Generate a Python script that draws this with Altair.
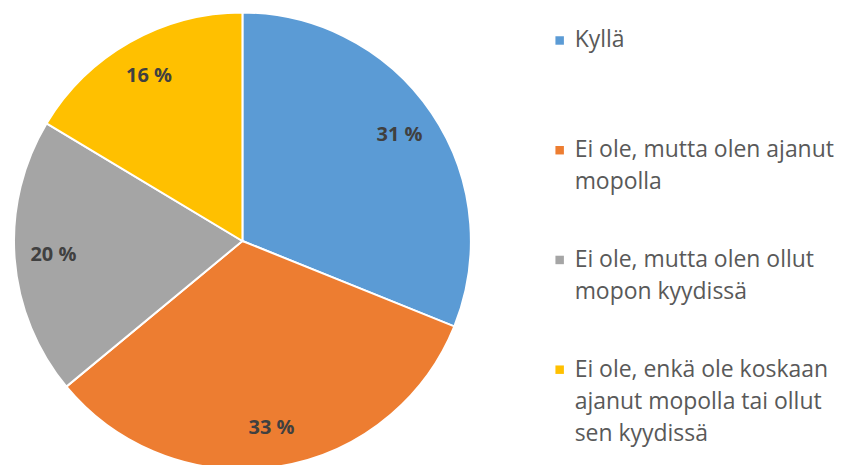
import altair as alt
import pandas as pd

categories = [
    "Kyllä",
    "Ei ole, mutta olen ajanut mopolla",
    "Ei ole, mutta olen ollut mopon kyydissä",
    "Ei ole, enkä ole koskaan ajanut mopolla tai ollut sen kyydissä",
]
legend_lines = [
    "Kyllä",
    "Ei ole, mutta olen ajanut|mopolla",
    "Ei ole, mutta olen ollut|mopon kyydissä",
    "Ei ole, enkä ole koskaan|ajanut mopolla tai ollut|sen kyydissä",
]
values = [31.1, 32.9, 19.6, 16.4]
labels = ["31 %", "33 %", "20 %", "16 %"]
colors = ["#5B9BD5", "#ED7D31", "#A5A5A5", "#FFC000"]

df = pd.DataFrame({
    "cat": categories,
    "value": values,
    "label": labels,
    "legend": legend_lines,
    "order": list(range(len(categories))),
})

color = alt.Color("cat:N", scale=alt.Scale(domain=categories, range=colors), legend=None)

base = alt.Chart(df).encode(
    theta=alt.Theta("value:Q", stack=True),
    order=alt.Order("order:Q"),
)

pie = base.mark_arc(outerRadius=229, stroke="white", strokeWidth=2).encode(color=color)
text = base.mark_text(
    radius=190, font="Open Sans", fontSize=20, fontWeight="bold", color="#404040"
).encode(text="label:N")

pie_chart = (pie + text).properties(width=470, height=458)

ypos = alt.Y("cat:N", scale=alt.Scale(type="point", domain=categories, range=[28, 358], padding=0), axis=None)
leg_base = alt.Chart(df).encode(y=ypos)
squares = leg_base.mark_square(size=72, opacity=1).encode(
    x=alt.value(8), color=color
)
leg_text = leg_base.transform_calculate(
    lines="split(datum.legend, '|')"
).mark_text(
    align="left", baseline="middle", font="Open Sans", fontSize=23,
    lineHeight=32, color="#595959"
).encode(x=alt.value(23), text="lines:N")

legend_chart = (squares + leg_text).properties(width=282, height=458)

chart = alt.hconcat(pie_chart, legend_chart, spacing=75).properties(
    padding=0
).configure_view(stroke=None)

chart.save("out.html", embed_options={"renderer": "svg", "actions": False})
